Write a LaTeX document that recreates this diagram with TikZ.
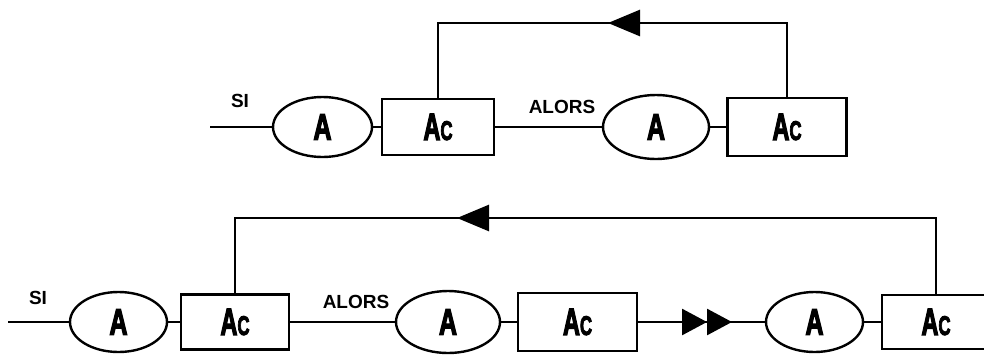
\documentclass[tikz,border=0pt]{standalone}
\usepackage{fontspec}
\setmainfont{Liberation Sans}
\newfontfamily\heavyfont[FakeBold=4]{Liberation Sans Bold}
\usetikzlibrary{shapes.geometric,arrows.meta}
\tikzset{
  ln/.style={line width=2.7pt,line join=miter},
  ell/.style={ellipse,draw,line width=2.4pt,inner sep=0pt,minimum width=#1},
  ell/.default=99pt,
  boxn/.style={rectangle,draw,line width=2.7pt,inner sep=0pt,minimum height=56pt,minimum width=#1},
  boxn/.default=112pt,
  lbl/.style={inner sep=0pt,font=\fontsize{19}{19}\selectfont\bfseries},
  bigtri/.style={-{Triangle[length=32pt,width=26pt]}},
}
\newcommand{\bigA}{\raisebox{-1pt}{\scalebox{0.68}[1]{\heavyfont\fontsize{37}{37}\selectfont A}}}
\newcommand{\AcTxt}{\raisebox{-4pt}{\scalebox{0.62}[1]{\heavyfont\fontsize{38}{38}\selectfont A\fontsize{27}{27}\selectfont C}}}
\begin{document}
\begin{tikzpicture}[x=1pt,y=-1pt]
\useasboundingbox[fill=white] (0,0) rectangle (984,354);
% ---------- top row ----------
\coordinate (s1) at (210,127);
\node[ell=99pt,minimum height=60pt] (e1) at (322.5,127) {\bigA};
\node[boxn=112pt,minimum height=56pt] (b1) at (438,127) {\AcTxt};
\node[ell=106pt,minimum height=64pt] (e2) at (656,127) {\bigA};
\node[boxn=119pt,minimum height=58pt] (b2) at (787,127) {\AcTxt};
\node[lbl] (si1) at (240,101) {SI};
\node[lbl] (al1) at (562,107) {ALORS};
\draw[ln] (s1) -- (e1.west);
\draw[ln] (e1.east) -- (b1.west);
\draw[ln] (b1.east) -- (e2.west);
\draw[ln] (e2.east) -- (b2.west);
\coordinate (tr1) at (787,23);
\coordinate (tl1) at (438,23);
\coordinate (ta1) at (608,23);
\draw[ln] (b2.north) -- (tr1) -- (tl1) -- (b1.north);
\draw[ln,bigtri] (tr1) -- (ta1);
% ---------- bottom row ----------
\coordinate (s2) at (8,322);
\node[ell=97pt,minimum height=60pt] (e3) at (118.5,322) {\bigA};
\node[boxn=108pt,minimum height=55pt] (b3) at (235,322) {\AcTxt};
\node[ell=104pt,minimum height=62pt] (e4) at (448,322) {\bigA};
\node[boxn=119pt,minimum height=58pt] (b4) at (577.5,322) {\AcTxt};
\node[ell=97pt,minimum height=60pt] (e5) at (814.5,322) {\bigA};
\node[boxn=108pt,minimum height=54pt] (b5) at (936,322) {\AcTxt};
\node[lbl] (si2) at (38,298) {SI};
\node[lbl] (al2) at (356,302) {ALORS};
\draw[ln] (s2) -- (e3.west);
\draw[ln] (e3.east) -- (b3.west);
\draw[ln] (b3.east) -- (e4.west);
\draw[ln] (e4.east) -- (b4.west);
\draw[ln] (b4.east) -- (e5.west);
\coordinate (dd) at (732,322);
\draw[ln,-{Triangle[length=25pt,width=26pt]Triangle[length=25pt,width=26pt]}] (b4.east) -- (dd);
\draw[ln] (e5.east) -- (b5.west);
\coordinate (tr2) at (936,218);
\coordinate (tl2) at (235,218);
\coordinate (ta2) at (457,218);
\draw[ln] (b5.north) -- (tr2) -- (tl2) -- (b3.north);
\draw[ln,bigtri] (tr2) -- (ta2);
\end{tikzpicture}
\end{document}
